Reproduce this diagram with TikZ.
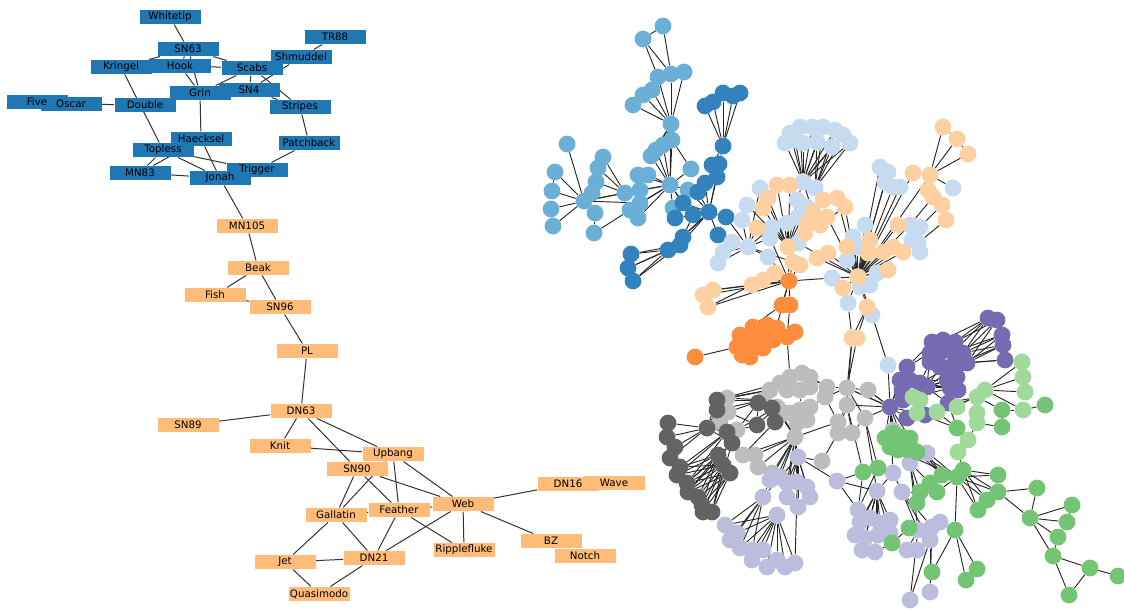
\documentclass[tikz,border=0pt]{standalone}
\usepackage{fontspec}
\setmainfont{DejaVu Sans}
\pgfdeclarelayer{bg}
\pgfdeclarelayer{boxes}
\pgfsetlayers{bg,boxes,main}
\definecolor{lblue}{HTML}{1F77B4}
\definecolor{lorange}{HTML}{FFBB78}
\definecolor{cA}{HTML}{6BAED6}
\definecolor{cB}{HTML}{3182BD}
\definecolor{cC}{HTML}{C6DBEF}
\definecolor{cD}{HTML}{FDD0A2}
\definecolor{cE}{HTML}{FD8D3C}
\definecolor{cF}{HTML}{BDBDBD}
\definecolor{cG}{HTML}{636363}
\definecolor{cH}{HTML}{BCBDDC}
\definecolor{cI}{HTML}{756BB1}
\definecolor{cJ}{HTML}{74C476}
\definecolor{cK}{HTML}{A1D99B}
\begin{document}
\begin{tikzpicture}[x=0.75pt,y=-0.75pt,
  lbox/.style={rectangle,minimum width=45.75pt,minimum height=10.9pt,inner sep=0pt},
  ltext/.style={inner sep=0pt,font=\fontsize{7.7}{9}\selectfont,text=black},
  bluebox/.style={lbox,fill=lblue},
  orangebox/.style={lbox,fill=lorange},
  dot/.style={circle,minimum size=12.6pt,inner sep=0pt,draw=none},
  ledge/.style={line width=0.75pt,black!80},
  nedge/.style={line width=0.7pt,black!85}]
\useasboundingbox (0,0) rectangle (1124,610);

% ---------- left labelled graph: boxes below, texts on top ----------
\begin{pgfonlayer}{boxes}
\foreach \n/\x/\y in {Whitetip/170/17, TR88/335/37, SN63/188/49, Shmuddel/301/57, Kringel/121/67, Hook/180/66, Scabs/252/68, Double/145/105, Grin/200/93, SN4/249/90, Five/37/102, Oscar/71/104, Stripes/300/107, Patchback/309/143, Haecksel/201/139, Topless/163/150, Trigger/257/170, MN83/140/173, Jonah/220/178}
  \node[bluebox] (\n) at (\x,\y) {};
\foreach \n/\x/\y in {MN105/247/226, Beak/258/268, Fish/215/295, SN96/280/307, PL/307/351, DN63/301/411, SN89/188/425, Knit/280/446, Upbang/393/454, SN90/357/469, DN16/568/484, Wave/614/483, Web/463/504, Gallatin/336/515, Feather/399/510, Ripplefluke/464/550, BZ/551/541, Notch/585/556, Jet/285/562, DN21/374/558, Quasimodo/319/594}
  \node[orangebox] (\n) at (\x,\y) {};
\end{pgfonlayer}
\foreach \n in {Whitetip, TR88, SN63, Shmuddel, Kringel, Hook, Scabs, Double, Grin, SN4, Five, Oscar, Stripes, Patchback, Haecksel, Topless, Trigger, MN83, Jonah, MN105, Beak, Fish, SN96, PL, DN63, SN89, Knit, Upbang, SN90, DN16, Wave, Web, Gallatin, Feather, Ripplefluke, BZ, Notch, Jet, DN21, Quasimodo}
  \node[ltext] (\n-t) at (\n) {\n};

\begin{pgfonlayer}{bg}
\foreach \u/\v in {Whitetip/SN63, SN63/Kringel, SN63/Hook, SN63/Grin, Hook/Grin, SN63/Scabs, Hook/Scabs, Scabs/Grin, Scabs/SN4, Scabs/Stripes, SN4/Stripes, Shmuddel/Scabs, Shmuddel/SN4, TR88/Shmuddel, Grin/Haecksel, Kringel/Topless, Oscar/Double, MN83/Topless, MN83/Haecksel, Topless/Jonah, Topless/Trigger, Haecksel/Jonah, MN83/Jonah, Patchback/Trigger, Stripes/Patchback, Jonah/MN105, MN105/Beak, Beak/Fish, Beak/SN96, Fish/SN96, SN96/PL, PL/DN63, DN63/SN89, DN63/Knit, DN63/SN90, DN63/Upbang, Knit/Upbang, Upbang/Feather, Upbang/Web, SN90/Gallatin, Upbang/Gallatin, SN90/Feather, SN90/Web, Gallatin/Feather, Feather/Web, Web/DN16, Web/BZ, Web/Ripplefluke, Web/DN21, Feather/Ripplefluke, Feather/DN21, Gallatin/DN21, Gallatin/Jet, Jet/DN21, Jet/Quasimodo, DN21/Quasimodo}
  \draw[ledge] (\u) -- (\v);
\end{pgfonlayer}

% ---------- right network ----------
\foreach \n/\x/\y in {a1/663/26, a2/643/39, a3/658/77, a4/671/74, a5/684/72, a6/652/90, a7/643/95, a8/633/105, a9/671/124, a10/672/140, a11/663/145, a12/656/150, a13/651/156, a14/567/144, a15/603/157, a16/598/168, a17/596/182, a18/592/193, a19/555/172, a20/552/191, a21/551/209, a22/553/226, a23/584/201, a24/595/213, a25/594/233, a26/625/193, a27/638/175, a28/648/175, a29/640/190, a30/640/203, a31/630/210, a32/638/218, a33/670/185, a34/691/169, a35/688/190, a36/673/208}
  \node[dot,fill=cA] (\n) at (\x,\y) {};
\foreach \n/\x/\y in {b1/705/106, b2/713/102, b3/723/93, b4/733/96, b5/740/93, b6/723/146, b7/719/164, b8/712/165, b9/717/177, b10/705/183, b11/698/192, b12/683/203, b13/675/218, b14/693/215, b15/709/212, b16/726/217, b17/718/235, b18/683/237, b19/680/245, b20/668/250, b21/631/254, b22/628/268, b23/633/281}
  \node[dot,fill=cB] (\n) at (\x,\y) {};
\foreach \n/\x/\y in {c1/785/143, c2/790/133, c3/800/127, c4/812/127, c5/823/127, c6/835/130, c7/843/135, c8/850/143, c9/803/143, c10/817/142, c11/832/147, c12/795/140, c13/803/182, c14/815/188, c15/880/167, c16/888/172, c17/885/182, c18/893/187, c19/900/187, c20/953/188, c21/865/225, c22/853/237, c23/857/247, c24/910/225, c25/920/227, c26/912/240, c27/918/243, c28/920/252, c29/847/260, c30/877/273, c31/832/278, c32/860/287, c33/870/285, c34/848/303, c35/872/315, c36/760/188, c37/747/205, c38/742/220, c39/797/200, c40/807/207, c41/787/223, c42/798/217, c43/772/227, c44/770/238, c45/748/247, c46/732/242, c47/723/252, c48/718/263, c49/768/257, c50/798/243, c51/888/365}
  \node[dot,fill=cC] (\n) at (\x,\y) {};
\foreach \n/\x/\y in {d1/943/127, d2/957/139, d3/968/154, d4/930/175, d5/913/173, d6/928/190, d7/933/197, d8/942/205, d9/946/220, d10/898/225, d11/870/240, d12/868/253, d13/847/247, d14/883/252, d15/893/247, d16/903/252, d17/888/270, d18/858/277, d19/843/288, d20/867/307, d21/852/338, d22/857/338, d23/777/185, d24/790/185, d25/768/198, d26/763/208, d27/823/200, d28/837/198, d29/845/207, d30/813/212, d31/808/223, d32/805/233, d33/827/217, d34/820/225, d35/757/228, d36/788/247, d37/793/262, d38/800/265, d39/817/258, d40/828/253, d41/775/273, d42/763/280, d43/752/285, d44/713/290, d45/703/295, d46/708/307}
  \node[dot,fill=cD] (\n) at (\x,\y) {};
\foreach \n/\x/\y in {e1/789/281, e2/782/305, e3/790/305, e4/740/335, e5/753/327, e6/767/325, e7/777/328, e8/787/337, e9/795/332, e10/737/347, e11/750/345, e12/763/348, e13/773/340, e14/750/357, e15/742/355, e16/760/337, e17/747/337, e19/695/357}
  \node[dot,fill=cE] (\n) at (\x,\y) {};
\foreach \n/\x/\y in {f1/780/383, f2/790/377, f3/802/373, f4/810/377, f5/787/390, f6/800/390, f7/810/387, f8/770/390, f9/763/400, f10/777/407, f11/780/415, f12/790/413, f13/800/410, f14/810/407, f15/807/420, f16/797/423, f17/795/437, f18/827/387, f19/825/397, f20/847/388, f21/847/405, f22/868/390, f23/865/418, f24/838/422, f25/838/433, f26/852/433, f27/822/461, f28/727/398, f29/728/412, f30/720/422, f31/737/430, f32/743/455, f33/755/455, f34/758/467, f35/772/473, f36/780/477}
  \node[dot,fill=cF] (\n) at (\x,\y) {};
\foreach \n/\x/\y in {g1/717/400, g2/717/410, g3/758/403, g4/757/425, g5/772/408, g6/775/422, g7/668/423, g8/667/437, g9/675/447, g10/670/458, g11/707/428, g12/727/432, g13/732/443, g14/680/467, g15/677/475, g16/687/483, g17/688/492, g18/698/497, g19/702/505, g20/712/512, g21/703/512, g22/718/455, g23/723/465, g24/730/473}
  \node[dot,fill=cG] (\n) at (\x,\y) {};
\foreach \n/\x/\y in {h1/798/457, h2/763/497, h3/777/515, h4/787/483, h5/797/482, h6/807/487, h7/810/497, h8/798/507, h9/787/497, h10/770/480, h11/777/477, h12/725/525, h13/737/533, h14/730/540, h15/740/548, h16/752/550, h17/763/550, h18/752/560, h19/767/567, h20/777/560, h21/785/567, h22/795/563, h23/837/481, h24/858/510, h25/877/491, h26/893/473, h27/860/522, h28/870/518, h29/880/523, h30/890/520, h31/855/535, h32/865/538, h33/878/535, h34/890/533, h35/862/550, h36/875/552, h37/893/430, h38/910/463, h39/927/453, h42/902/492, h43/918/530, h44/932/527, h45/940/522, h46/930/540, h47/917/550, h48/907/550, h49/910/600, h50/930/592}
  \node[dot,fill=cH] (\n) at (\x,\y) {};
\foreach \n/\x/\y in {i1/988/318, i2/997/320, i3/1002/335, i4/1003/345, i5/1005/360, i6/932/342, i7/943/340, i8/955/342, i9/930/353, i10/940/353, i11/953/352, i12/963/353, i13/960/363, i14/967/363, i15/940/367, i16/950/367, i17/930/362, i18/907/367, i19/900/380, i20/902/390, i21/910/380, i22/920/383, i23/927/387, i24/903/400, i26/947/380, i27/957/377, i28/950/388, i29/958/390, i30/948/403, i31/890/407, i32/907/418, i33/925/415}
  \node[dot,fill=cI] (\n) at (\x,\y) {};
\foreach \n/\x/\y in {k1/913/397, k2/920/400, k3/917/413, k4/937/412, k5/957/407, k6/977/397, k7/985/390, k8/1022/362, k9/1023/377, k10/1025/392, k11/1023/410, k12/977/413, k13/977/423, k14/968/440, k15/958/452}
  \node[dot,fill=cK] (\n) at (\x,\y) {};
\foreach \n/\x/\y in {j1/1002/410, j2/1002/427, j3/957/428, j4/1045/405, j5/885/438, j6/893/433, j7/902/437, j8/910/438, j9/890/447, j10/898/450, j11/908/450, j12/917/452, j13/863/472, j14/878/468, j15/942/475, j16/957/477, j17/963/470, j18/930/483, j19/920/492, j20/917/503, j21/937/492, j22/998/475, j23/998/492, j24/987/500, j25/978/510, j26/1037/488, j27/1030/518, j28/1072/505, j29/1067/522, j30/1058/537, j31/1053/556, j32/1090/568, j33/1118/576, j34/1069/595, j35/955/530, j36/966/580, j37/977/569, j38/932/572, j39/909/528, j40/892/543}
  \node[dot,fill=cJ] (\n) at (\x,\y) {};

\begin{pgfonlayer}{bg}
\foreach \h/\L in {a1/{a2,a4}, a2/{a3,a4}, a9/{a3,a4,a5,a6,a7,a8,a10,a11,a12,a13,a33}, a23/{a14,a15,a16,a17,a18,a19,a20,a21,a22,a24,a26,a29,a30}, a19/{a20}, a21/{a22}, a25/{a31,a24}, a26/{a15,a16,a17}, a33/{a26,a27,a28,a29,a30,a31,a32,a10,a11,a12,a13,a34,a35,a36,b12,b14}, a10/{a34},
 b6/{b1,b2,b3,b4,b5,b7,b8}, b15/{b9,b10,b11,b12,b13,b14,b16,b17,b19,a35,a36,b7}, b19/{b21,b22,b23}, b20/{b21,b22,b23,b15}, b18/{b14,b15}, b16/{c45}, b17/{c45},
 c13/{c1,c2,c3,c4,c5,c6,c7,c8,c9,c10,c11,c12,d30,c39}, c14/{c5,c6,c7,c8,c10,c11,d27},
 d18/{c15,c16,c17,c18,c19,d4,d5,d10,d11,d12,d13,d14,d15,d16,d17,c21,c22,c23,c24,c26,c29,c30,c32,c33,c31,d19,d20,c34,c35,d28,d29,d33,d40,d39,c50},
 d4/{d1,d2,d3,c20}, d1/{d2}, d2/{d3}, d9/{c27}, d8/{c25}, d7/{c24},
 d36/{c36,c37,c39,c40,c41,c42,d23,d24,d25,d26,d31,d32,d33,d34,c43,d27,d29},
 c45/{c46,c47,c48,c49,d35,c38,c44,d37,c43,c36},
 e1/{d41,d42,d43,d44,d45,d46,e2,e3,c31,c49,d37,d38,d36,c44,e13},
 d44/{d45,d46}, d43/{d44,d46}, d20/{d21,d22}, c34/{d21}, c35/{c51},
 e3/{e8}, e2/{e4}, e19/{e10}, e8/{f2},
 f17/{f10,f11,f12,f13,f14,f15,f16,f32,f33,f34,f35,f36,h1,h4,h5,h10,h11,h9,f24},
 f5/{f1,f2,f6,f8}, f6/{f3,f4,f7,f13}, f9/{g1,g2,g3,g5,f28,f29}, f8/{g1,f28}, f1/{g1,g3}, f10/{g3,g4,g5,g6,f31},
 f20/{f18,f19,f21,f22,f23,i31,d21,d22}, f21/{f24,f25,f26,d21,j13}, f23/{j14,h25,f26}, f22/{i31}, f27/{f25,h1}, f19/{f24,f14}, f18/{f3,f4},
 g11/{g7,g8,g9,g10,g1,g2,g12,g13}, g22/{g14,g15,g16,g17,g18,g19}, g23/{g14,g15,g16,g17,g18,g19,g20,g21}, g24/{g16,g17,g18,g19,g20,g21}, g12/{g14,g15,g16}, g13/{g16,g17,g20}, g3/{f31,g4}, g5/{g6}, g4/{f31,f29}, g6/{f32}, g1/{f28,f8}, g2/{f29},
 h1/{h4,h5,h6,h7,h8,h9,h22,h23,h2}, h2/{h12,h13,h14,h15,h16,h10}, h3/{h15,h16,h17,h18,h19,h20,h21,h22,h12,h13}, h23/{h24,h25}, h25/{h27,h28,h29,h30,h31,h32,h33,h34,h35,h36,h26}, h24/{h27,h31,h35}, h37/{i31,j5}, h38/{j19,j20,h43}, h39/{j15}, h42/{h43,h44,h46,j19}, h43/{h49,h48}, h44/{h50}, h46/{h49,h50}, h26/{h42,j13},
 i1/{i7,i8,i11,i12,i2}, i2/{i8,i12,i14}, i3/{i12,i14,i11}, i4/{i13,i14,i12}, i5/{i14,i13,k8}, i23/{i26,i27,i28,i13,i9,i15}, i22/{i28,i29,i30,i16}, i21/{i26,i29}, i24/{i28}, i31/{i18,i19,i20,i21,i24,i32,i33,f22,f23,c51,h37,j5,j6,j7,j8,j9,j10,f20,f21,h26}, i18/{i6,i9}, i17/{i22},
 k7/{k8,k9,k10,k11,k5}, k6/{k12,i30,k4}, k12/{k13}, k13/{k14}, k14/{k15}, k15/{j17}, k11/{j4}, j1/{k6,k11,j2}, j2/{k13}, k3/{j3}, k4/{j3}, j3/{i30},
 j16/{j22,j23,j24,j25,j35,j15,j17,j18,j21,j9}, j17/{j22,j23,j24,j25}, j23/{j26,j27}, j27/{j26,j28,j29,j30,j31}, j28/{j29}, j29/{j30}, j30/{j31}, j31/{j32,j34}, j32/{j33,j34}, j35/{j36,j37,j38}, j14/{j13,h24}, j13/{h24,h23}, j18/{j19,j20,h38}, j21/{j19}, j39/{h43,h44,j40}, j40/{h36}, j8/{j15,j16}, j12/{j15,j16,h39}}
  {\foreach \l in \L {\draw[nedge] (\h) -- (\l);}}
\end{pgfonlayer}
\end{tikzpicture}
\end{document}
